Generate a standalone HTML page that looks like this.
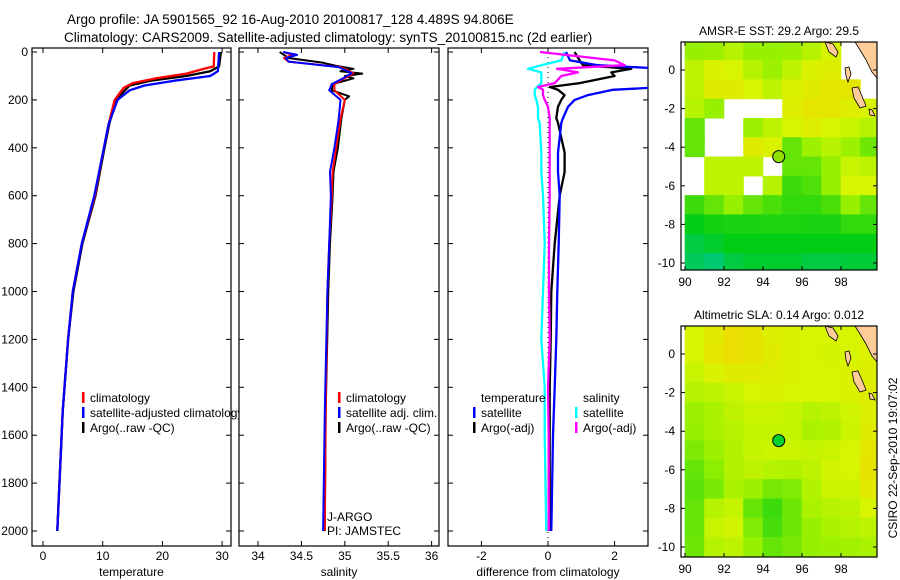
<!DOCTYPE html>
<html><head><meta charset="utf-8"><style>
html,body{margin:0;padding:0;background:#fff;}
svg{display:block;font-family:"Liberation Sans",sans-serif;}
</style></head><body>
<svg id="chart" width="900" height="580" viewBox="0 0 900 580">
<text x="67" y="24" font-size="13.5">Argo profile: JA 5901565_92 16-Aug-2010 20100817_128 4.489S 94.806E</text>
<text x="64" y="42" font-size="13.5">Climatology: CARS2009. Satellite-adjusted climatology: synTS_20100815.nc (2d earlier)</text>
<g id="g"></g>
</svg>
<script>
// ---- profile data (depth in m) ----
const tClimDepth=[0,60,70,90,110,130,150,200,300,400,600,800,1000,1200,1500,2000];
const tClim=[28.7,28.6,27,24,19,15,13.5,12,11,10.2,8.7,6.5,5,4.2,3.3,2.4];
const tSatDepth=[0,80,100,120,140,160,200,300,400,600,800,1000,1200,1500,2000];
const tSat=[29.5,29.3,28,22,17,14.5,12.5,11,10.2,8.6,6.5,5,4.2,3.3,2.4];
const tArgoDepth=[0,60,80,100,120,140,200,300,400,600,800,1000,1200,1500,2000];
const tArgo=[29.8,29.5,28,24,18,14.5,12.2,11.1,10.3,8.8,6.6,5.1,4.2,3.3,2.4];

const sClimDepth=[0,12,25,40,63,88,110,134,160,200,280,400,500,600,800,1000,1500,2000];
const sClim=[34.29,34.4,34.3,34.35,34.95,35.1,35.0,34.88,34.88,35.0,34.95,34.9,34.86,34.85,34.82,34.8,34.78,34.77];
const sSat=[34.29,34.45,34.32,34.35,34.93,35.08,34.98,34.85,34.82,34.95,34.93,34.88,34.83,34.84,34.82,34.8,34.77,34.75];
const sArgoDepth=[0,12,25,45,58,70,80,90,100,110,134,160,185,200,280,400,500,600,800,1000,1500,2000];
const sArgo=[34.25,34.3,34.35,34.75,34.9,35.1,34.95,35.2,35.0,35.1,34.86,34.85,35.05,35.0,34.96,34.92,34.87,34.86,34.83,34.81,34.78,34.77];

const dDepth=[0,35,55,70,85,100,130,146,158,180,200,229,276,296,420,500,600,800,1000,1200,1400,1600,2000];
const dTSat=[0.54,0.66,1.5,3.5,3.5,3.5,3.5,3.5,1.95,1.2,0.8,0.6,0.45,0.4,0.3,0.3,0.35,0.32,0.28,0.25,0.2,0.15,0.1];
const dTArgo=[0.8,0.95,1.05,2.5,1.9,2.0,0.95,0.06,0.3,0.5,0.4,0.3,0.25,0.3,0.5,0.5,0.35,0.2,0.1,0.08,0.05,0.05,0.05];
const dSSat=[0.5,0.4,-0.2,-0.6,-0.2,-0.2,-0.2,-0.33,-0.4,-0.4,-0.35,-0.3,-0.3,-0.25,-0.2,-0.2,-0.15,-0.1,-0.15,-0.2,-0.1,-0.1,-0.05];
const dSArgo=[-0.24,2.0,2.3,0.27,0.9,0.4,0.2,-0.3,-0.15,-0.15,-0.1,0,0.05,0.05,0.05,0.05,0.05,0.03,0.03,0.05,0.0,0.02,0.02];

const depthTicks=[0,200,400,600,800,1000,1200,1400,1600,1800,2000];
const tTicks=[0,10,20,30];
const sTicks=[34,34.5,35,35.5,36];
const sTickLabels=["34","34.5","35","35.5","36"];
const dTicks=[-2,0,2];

// ---- map data (rows lat 1.5 -> -10.5, cols lon 90 -> 100, 1 deg cells; null = no data) ----
const sstGrid=[
[.6,.62,.7,.6,.6,.62,.7,.8,null,null],
[.72,.82,.8,.7,.62,.72,.82,.85,null,null],
[.72,.86,.86,.8,.72,.82,.86,.9,.9,null],
[.7,.6,null,null,null,.85,.9,.9,.85,.8],
[.5,null,null,.62,.72,.8,.85,.8,.75,.7],
[.5,null,null,.86,.82,.5,.62,.7,.62,.52],
[null,.72,.72,.72,null,.5,.5,.6,.75,.72],
[null,.72,.72,null,.7,.42,.46,.6,.8,.8],
[.42,.5,.6,.5,.45,.4,.4,.45,.6,.5],
[.3,.34,.35,.35,.36,.36,.35,.35,.4,.4],
[.2,.25,.3,.3,.3,.3,.3,.3,.3,.3],
[.15,.1,.2,.25,.25,.25,.2,.2,.22,.22]];
const slaGrid=[
[.8,.88,.95,.92,.85,.82,.8,.8,.8,.8],
[.8,.9,.95,.92,.86,.82,.8,.78,.8,.82],
[.75,.82,.86,.86,.84,.82,.8,.8,.82,.84],
[.7,.72,.75,.8,.82,.8,.8,.8,.82,.86],
[.62,.66,.72,.76,.76,.74,.7,.72,.78,.84],
[.6,.66,.7,.74,.74,.74,.66,.68,.76,.86],
[.55,.62,.68,.74,.76,.76,.74,.76,.8,.9],
[.5,.58,.68,.72,.7,.68,.72,.78,.8,.92],
[.48,.54,.66,.62,.54,.56,.68,.76,.76,.88],
[.5,.7,.74,.5,.42,.52,.66,.7,.72,.8],
[.5,.75,.78,.56,.44,.52,.6,.66,.7,.72],
[.52,.7,.72,.6,.5,.54,.6,.62,.64,.66]];

const NS="http://www.w3.org/2000/svg";
const G=document.getElementById('g');
function mk(tag,attrs,parent){const e=document.createElementNS(NS,tag);for(const k in attrs)e.setAttribute(k,attrs[k]);(parent||G).appendChild(e);return e;}

const Y0=52,Y1=531;
function yD(d){return Y0+(d/2000)*(Y1-Y0);}

const panels=[
 {x0:32,x1:231,xs:v=>43+v*5.97},
 {x0:239,x1:439,xs:v=>258+(v-34)*86.8},
 {x0:448,x1:648,xs:v=>548+v*33.3}
];
panels.forEach((p,i)=>{
 const cp=mk('clipPath',{id:'clip'+i});
 mk('rect',{x:p.x0,y:48,width:p.x1-p.x0,height:498},cp);
});

function line(pi,depths,vals,color,name,w){
 const p=panels[pi];
 const pts=depths.map((d,i)=>p.xs(vals[i]).toFixed(1)+','+yD(d).toFixed(1)).join(' ');
 const el=mk('polyline',{points:pts,fill:'none',stroke:color,'stroke-width':w||2.3,'stroke-linejoin':'round','clip-path':'url(#clip'+pi+')'});
 
 
}

function frame(pi,ticks,labels,xlabel,name){
 const p=panels[pi];
 const f=mk('rect',{x:p.x0,y:48,width:p.x1-p.x0,height:498,fill:'#fff',stroke:'#000','stroke-width':1.2});
 
 
 ticks.forEach((t,i)=>{
  const x=p.xs(t);
  mk('line',{x1:x,x2:x,y1:48,y2:53,stroke:'#000'});
  mk('line',{x1:x,x2:x,y1:541,y2:546,stroke:'#000'});
  const tl=mk('text',{x:x,y:560,'font-size':12,'text-anchor':'middle'});
  tl.textContent=labels[i];
  
  
 });
 depthTicks.forEach(d=>{
  mk('line',{x1:p.x0,x2:p.x0+5,y1:yD(d),y2:yD(d),stroke:'#000'});
  mk('line',{x1:p.x1-5,x2:p.x1,y1:yD(d),y2:yD(d),stroke:'#000'});
 });
 const xl=mk('text',{x:(p.x0+p.x1)/2,y:576,'font-size':12,'text-anchor':'middle'});
 xl.textContent=xlabel;
 
 
}
function legend(x,y,color,label,name){
 if(color){mk('rect',{x:x,y:y-6,width:2.5,height:11,fill:color});}
 const t=mk('text',{x:x+8,y:y+4,'font-size':12});
 t.textContent=label;
 
 
}

frame(0,tTicks,tTicks.map(String),'temperature','temperature-panel');
depthTicks.forEach(d=>{const t=mk('text',{x:28,y:yD(d)+4,'font-size':12,'text-anchor':'end'});t.textContent=d;});
line(0,tArgoDepth,tArgo,'#000','temp-argo-line');
line(0,tClimDepth,tClim,'#f00','temp-climatology-line');
line(0,tSatDepth,tSat,'#00f','temp-satellite-line');
legend(82,398,'#f00','climatology','legend-climatology');
legend(82,413,'#00f','satellite-adjusted climatology','legend-satellite-adjusted');
legend(82,428,'#000','Argo(..raw -QC)','legend-argo');

frame(1,sTicks,sTickLabels,'salinity','salinity-panel');
line(1,sArgoDepth,sArgo,'#000','sal-argo-line',2);
line(1,sClimDepth,sClim,'#f00','sal-climatology-line',2);
line(1,sClimDepth,sSat,'#00f','sal-satellite-line',2);
legend(338,398,'#f00','climatology','legend-sal-climatology');
legend(338,413,'#00f','satellite adj. clim.','legend-sal-satellite');
legend(338,428,'#000','Argo(..raw -QC)','legend-sal-argo');
legend(319,517,null,'J-ARGO','label-j-argo');
legend(319,531,null,'PI: JAMSTEC','label-pi');

frame(2,dTicks,dTicks.map(String),'difference from climatology','difference-panel');
mk('line',{x1:548,x2:548,y1:52,y2:546,stroke:'#000','stroke-dasharray':'1,4'});
line(2,dDepth,dTArgo,'#000','diff-temp-argo-line');
line(2,dDepth,dTSat,'#00f','diff-temp-satellite-line');
line(2,dDepth,dSSat,'#0ff','diff-sal-satellite-line');
line(2,dDepth,dSArgo,'#f0f','diff-sal-argo-line');
legend(473,398,null,'temperature','legend-diff-temperature-header');
legend(473,413,'#00f','satellite','legend-diff-temp-satellite');
legend(473,428,'#000','Argo(-adj)','legend-diff-temp-argo');
legend(575,398,null,'salinity','legend-diff-salinity-header');
legend(575,413,'#0ff','satellite','legend-diff-sal-satellite');
legend(575,428,'#f0f','Argo(-adj)','legend-diff-sal-argo');

function cmap(v){
 const stops=[[0,[0,200,160]],[0.3,[0,205,20]],[0.6,[150,240,0]],[0.8,[215,245,0]],[1,[240,215,0]]];
 for(let i=1;i<stops.length;i++){if(v<=stops[i][0]){const a=stops[i-1],b=stops[i],t=(v-a[0])/(b[0]-a[0]);return 'rgb('+a[1].map((c,j)=>Math.round(c+(b[1][j]-c)*t)).join(',')+')';}}
 return 'rgb(240,215,0)';
}
function drawMap(mi,top,bot,lat0y,grid,title,markerFill){
 const L=681,R=877;
 const xL=lon=>685+(lon-90)*19.5, yL=lat=>lat0y-lat*19.3;
 const cp=mk('clipPath',{id:'mclip'+mi});
 mk('rect',{x:L,y:top,width:R-L,height:bot-top},cp);
 const g=mk('g',{'clip-path':'url(#mclip'+mi+')'});
 
 
 mk('rect',{x:L,y:top,width:R-L,height:bot-top,fill:'#fff'},g);
 grid.forEach((row,r)=>row.forEach((v,c)=>{
  if(v===null)return;
  const c1=mk('rect',{x:xL(90+c)-0.3,y:yL(1.5-r)-0.3,width:19.5+0.6,height:19.3+0.6,fill:cmap(v)},g);
  
  
 }));
 const o=lat0y-70;
 [[ [855,42],[877,42],[877,78],[872,72],[866,60],[860,50] ],
  [[825,42],[833,44],[838,52],[836,57],[829,52]],
  [[845,68],[849,67],[851,74],[848,82],[846,76]],
  [[852,88],[858,87],[862,96],[866,106],[860,108],[854,98]],
  [[869,109],[872,110],[875,116],[870,115]]].forEach(poly=>{
  const lp=mk('polygon',{points:poly.map(p=>p[0]+','+(p[1]+o)).join(' '),fill:'#ffcc99',stroke:'#000','stroke-width':0.8},g);
  
  
 });
 const m=mk('circle',{cx:xL(94.806),cy:yL(-4.489),r:6,fill:markerFill,stroke:'#000','stroke-width':1});
 
 
 mk('rect',{x:L,y:top,width:R-L,height:bot-top,fill:'none',stroke:'#000','stroke-width':1.2});
 [90,92,94,96,98].forEach(lon=>{
  const x=xL(lon);
  mk('line',{x1:x,x2:x,y1:bot,y2:bot-4,stroke:'#000'});mk('line',{x1:x,x2:x,y1:top,y2:top+4,stroke:'#000'});
  const t=mk('text',{x:x,y:bot+16,'font-size':12,'text-anchor':'middle'});t.textContent=lon;
  
 });
 [0,-2,-4,-6,-8,-10].forEach(lat=>{
  const y=yL(lat);
  mk('line',{x1:L,x2:L+4,y1:y,y2:y,stroke:'#000'});mk('line',{x1:R-4,x2:R,y1:y,y2:y,stroke:'#000'});
  const t=mk('text',{x:675,y:y+4,'font-size':12,'text-anchor':'end'});t.textContent=lat;
  
 });
 const tt=mk('text',{x:779,y:top-7,'font-size':12,'text-anchor':'middle'});tt.textContent=title;
 
}
drawMap(0,42,270,70,sstGrid,'AMSR-E SST: 29.2 Argo: 29.5','#90e000');
drawMap(1,326,557,354,slaGrid,'Altimetric SLA: 0.14 Argo: 0.012','#00d030');
const cs=mk('text',{x:0,y:0,'font-size':12,'text-anchor':'middle',transform:'translate(897,458) rotate(-90)'});
cs.textContent='CSIRO 22-Sep-2010 19:07:02';


</script>
</body></html>
